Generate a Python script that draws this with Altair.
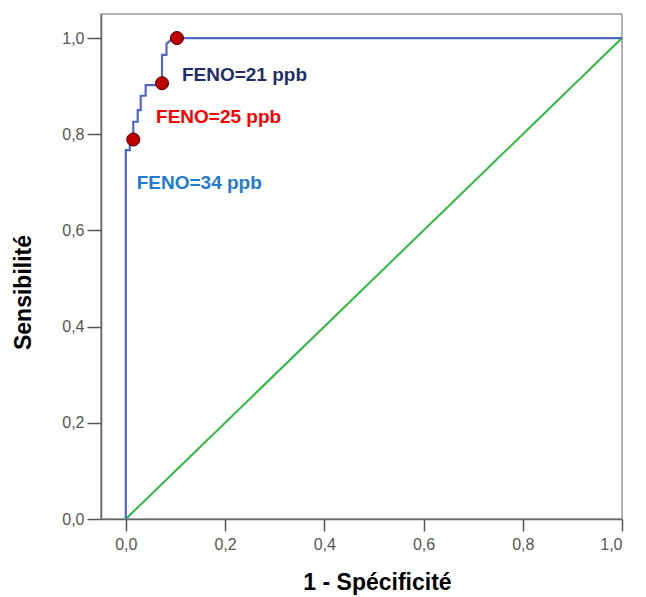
import altair as alt
import pandas as pd

# ROC curve (1 - specificity, sensitivity)
roc_fpr = [0.0, 0.0, 0.008, 0.008, 0.015, 0.015, 0.024, 0.024, 0.030, 0.030,
           0.040, 0.040, 0.073, 0.073, 0.082, 0.082, 0.095, 1.0]
roc_tpr = [0.0, 0.767, 0.767, 0.779, 0.779, 0.826, 0.826, 0.850, 0.850, 0.880,
           0.880, 0.902, 0.902, 0.965, 0.965, 0.988, 1.0, 1.0]

# Reference diagonal
diag_x = [0.0, 1.0]
diag_y = [0.0, 1.0]

# Highlighted cut-offs
cut_fpr = [0.015, 0.073, 0.103]
cut_tpr = [0.789, 0.906, 1.0]

# Labels
label_text = ["FENO=21 ppb", "FENO=25 ppb", "FENO=34 ppb"]
label_x = [0.113, 0.061, 0.022]
label_y = [0.923, 0.836, 0.699]
label_color = ["#1F2F66", "#FF0000", "#1F7BD0"]

tick_vals = [0.0, 0.2, 0.4, 0.6, 0.8, 1.0]

roc_df = pd.DataFrame({"fpr": roc_fpr, "tpr": roc_tpr, "i": range(len(roc_fpr))})
diag_df = pd.DataFrame({"fpr": diag_x, "tpr": diag_y, "i": range(len(diag_x))})
cut_df = pd.DataFrame({"fpr": cut_fpr, "tpr": cut_tpr})
lab_df = pd.DataFrame({"x": label_x, "y": label_y, "t": label_text, "c": label_color})

lab_expr = "replace(format(datum.value, '.1f'), '.', ',')"

xscale = alt.Scale(domain=[-0.05, 1.0], nice=False, zero=False)
yscale = alt.Scale(domain=[0.0, 1.05], nice=False, zero=False)

xaxis = alt.Axis(values=tick_vals, labelExpr=lab_expr, grid=False, tickSize=12,
                 labelPadding=5, labelFontSize=16, labelColor="#555555",
                 domainColor="#666666", tickColor="#555555", domainWidth=1.5, tickWidth=1.5,
                 title="1 - Spécificité", titleFontSize=23, titleFontWeight="bold",
                 titleColor="#000000", titleX=276, titleY=70, titleBaseline="alphabetic",
                 titleAlign="center", labelFont="Liberation Sans", titleFont="Liberation Sans")
yaxis = alt.Axis(values=tick_vals, labelExpr=lab_expr, grid=False, tickSize=14,
                 labelPadding=3, labelFontSize=16, labelColor="#555555",
                 domainColor="#666666", tickColor="#555555", domainWidth=1.5, tickWidth=1.5,
                 title="Sensibilité", titleFontSize=23, titleFontWeight="bold",
                 titleColor="#000000", titleX=-78, titleY=278, titleBaseline="middle",
                 titleAlign="center", titleAngle=270,
                 labelFont="Liberation Sans", titleFont="Liberation Sans")

diag = alt.Chart(diag_df).mark_line(color="#2DBB3F", strokeWidth=2).encode(
    x=alt.X("fpr:Q", scale=xscale, axis=xaxis),
    y=alt.Y("tpr:Q", scale=yscale, axis=yaxis),
    order="i:Q",
)

roc = alt.Chart(roc_df).mark_line(color="#5166C6", strokeWidth=2.2, interpolate="linear").encode(
    x=alt.X("fpr:Q", scale=xscale),
    y=alt.Y("tpr:Q", scale=yscale),
    order="i:Q",
)

pts = alt.Chart(cut_df).mark_point(filled=True, shape="circle", size=170, fill="#C00000",
                                   stroke="#4A0000", strokeWidth=1, opacity=1).encode(
    x=alt.X("fpr:Q", scale=xscale),
    y=alt.Y("tpr:Q", scale=yscale),
)

labels = alt.Chart(lab_df).mark_text(align="left", baseline="middle", fontSize=19,
                                     fontWeight="bold", font="Liberation Sans").encode(
    x=alt.X("x:Q", scale=xscale),
    y=alt.Y("y:Q", scale=yscale),
    text="t:N",
    color=alt.Color("c:N", scale=None),
)

chart = alt.layer(diag, roc, pts, labels).properties(
    width=521, height=505,
    autosize=alt.AutoSizeParams(type="none"),
    padding={"left": 93, "top": 6, "right": 10, "bottom": 76},
).configure_view(stroke="#9A9A9A", strokeWidth=1.5)

chart.save("out.html", embed_options={"renderer": "svg", "actions": False})
